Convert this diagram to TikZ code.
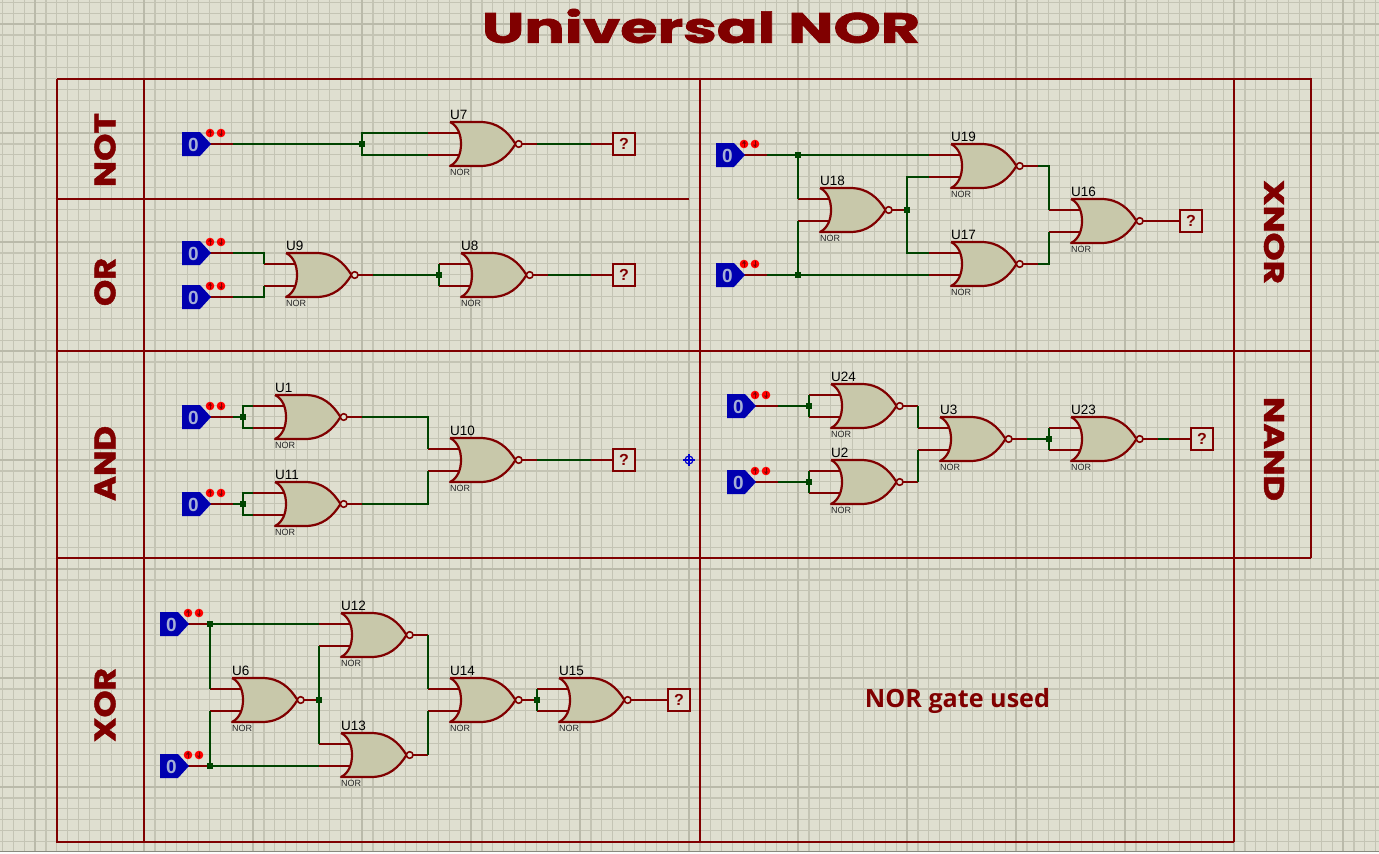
\documentclass[tikz,border=0pt]{standalone}
\usepackage{fontspec}
\setmainfont{Liberation Sans}
\newfontfamily\titlefont[BoldFeatures={FakeBold=1.5}]{Poppins}
\newfontfamily\notefont{Open Sans}
\definecolor{bgc}{RGB}{223,223,208}
\definecolor{gridc}{RGB}{196,196,180}
\definecolor{majorc}{RGB}{186,186,170}
\definecolor{redw}{RGB}{128,0,0}
\definecolor{greenw}{RGB}{0,68,0}
\definecolor{bodyc}{RGB}{200,200,170}
\definecolor{srcc}{RGB}{0,0,176}
\definecolor{zeroc}{RGB}{165,175,215}
\tikzset{
  frameline/.style={draw=redw,line width=2.3pt},
  wire/.style={draw=greenw,line width=2.3pt},
  pinline/.style={draw=redw,line width=2.3pt},
  gatebody/.style={fill=bodyc,draw=redw,line width=2.2pt},
  gatetag/.style={anchor=base west,inner sep=0pt,font=\fontsize{13.5}{13.5}\selectfont,text=black},
  gatekind/.style={anchor=base west,inner sep=0pt,font=\fontsize{9}{9}\selectfont,text=black!85},
  probebox/.style={draw=redw,line width=2.3pt,fill=bgc,minimum width=22pt,minimum height=22pt,inner sep=0pt,font=\bfseries\fontsize{16}{16}\selectfont,text=redw},
  sideheading/.style={inner sep=0pt,text=redw},
}
% name, left x, centre y
\newcommand{\norgate}[3]{%
  \coordinate (#1-A) at (#2-22,#3-11);
  \coordinate (#1-B) at (#2-22,#3+11);
  \coordinate (#1-O) at (#2+87,#3);
  \draw[pinline] (#1-A) -- (#2+10,#3-11);
  \draw[pinline] (#1-B) -- (#2+10,#3+11);
  \draw[pinline] (#2+71,#3) -- (#1-O);
  \draw[gatebody,line join=round] (#2,#3-22) -- (#2+30,#3-22)
     .. controls (#2+48,#3-22) and (#2+58,#3-12) .. (#2+65.5,#3)
     .. controls (#2+58,#3+12) and (#2+48,#3+22) .. (#2+30,#3+22)
     -- (#2,#3+22)
     .. controls (#2+8,#3+18) and (#2+11,#3+9) .. (#2+11,#3)
     .. controls (#2+11,#3-9) and (#2+8,#3-18) .. (#2,#3-22);
  \draw[draw=redw,fill=bgc,line width=1.6pt] (#2+68.7,#3) circle (3.3);
  \node[gatetag] (#1-tag) at (#2,#3-25) {#1};
  \node[gatekind] (#1-kind) at (#2,#3+31.5) {NOR};
}
% name, left x, centre y
\newcommand{\logicsrc}[3]{%
  \coordinate (#1-O) at (#2+51,#3);
  \draw[pinline] (#2+28,#3) -- (#1-O);
  \fill[srcc] (#2,#3-12) -- (#2+18,#3-12) -- (#2+29,#3) -- (#2+18,#3+12) -- (#2,#3+12) -- cycle;
  \node[inner sep=0pt,text=zeroc,font=\bfseries\fontsize{19}{19}\selectfont] (#1-val) at (#2+11.5,#3+1) {0};
  \fill[red] (#2+28,#3-11) circle (4.3) (#2+39,#3-11) circle (4.3);
  \draw[redw,line width=0.9pt] (#2+28,#3-14) -- (#2+28,#3-8) (#2+39,#3-14) -- (#2+39,#3-8);
  \fill[redw] (#2+26,#3-11.5) -- (#2+30,#3-11.5) -- (#2+28,#3-14) -- cycle;
  \fill[redw] (#2+37,#3-10.5) -- (#2+41,#3-10.5) -- (#2+39,#3-8) -- cycle;
}
% name, left x, centre y
\newcommand{\logicprobe}[3]{%
  \coordinate (#1-I) at (#2-22,#3);
  \draw[pinline] (#1-I) -- (#2,#3);
  \node[probebox] (#1) at (#2+11,#3) {?};
}
\newcommand{\junction}[1]{\fill[greenw] (#1) ++(-3,-3) rectangle ++(6,6);}
\begin{document}
\begin{tikzpicture}[x=1pt,y=-1pt]
\useasboundingbox (0,0) rectangle (1379,854);
\fill[bgc] (0,0) rectangle (1379,854);
% grid
\foreach \k in {-3,...,123}{\pgfmathsetmacro{\gx}{35+10.9*\k}\draw[gridc,line width=1.2pt] (\gx,0) -- (\gx,851);}
\foreach \k in {-2,...,76}{\pgfmathsetmacro{\gy}{24+10.9*\k}\draw[gridc,line width=1.2pt] (0,\gy) -- (1379,\gy);}
\foreach \k in {0,...,12}{\pgfmathsetmacro{\gx}{35+109*\k}\draw[majorc,line width=2.4pt] (\gx,0) -- (\gx,851);}
\foreach \k in {0,...,7}{\pgfmathsetmacro{\gy}{24+109*\k}\draw[majorc,line width=2.4pt] (0,\gy) -- (1379,\gy);}
\fill[white!92!bgc] (0,851) rectangle (1379,854);
\draw[gridc!70!black,line width=0.8pt] (0,851) -- (1379,851);
% frame
\draw[frameline] (57,79) -- (1311,79) -- (1311,558);
\draw[frameline] (57,79) -- (57,842) -- (1234,842);
\draw[frameline] (144,79) -- (144,842);
\draw[frameline] (700,79) -- (700,842);
\draw[frameline] (1234,79) -- (1234,842);
\draw[frameline] (57,199) -- (689,199);
\draw[frameline] (57,351) -- (1311,351);
\draw[frameline] (57,558) -- (1311,558);
% titles
\node[sideheading] (title) at (701,26) {\resizebox{438pt}{34pt}{\titlefont\bfseries Universal NOR}};
\node[sideheading,rotate=90] (hnot) at (105,150) {\resizebox{74pt}{21pt}{\titlefont\bfseries NOT}};
\node[sideheading,rotate=90] (hor) at (105,282) {\resizebox{48pt}{21pt}{\titlefont\bfseries OR}};
\node[sideheading,rotate=90] (hand) at (105,463.5) {\resizebox{75pt}{21pt}{\titlefont\bfseries AND}};
\node[sideheading,rotate=90] (hxor) at (105,705) {\resizebox{74pt}{21pt}{\titlefont\bfseries XOR}};
\node[sideheading,rotate=-90] (hxnor) at (1274,232) {\resizebox{104pt}{20pt}{\titlefont\bfseries XNOR}};
\node[sideheading,rotate=-90] (hnand) at (1274,449) {\resizebox{104pt}{20pt}{\titlefont\bfseries NAND}};
\node[sideheading] (used) at (957.5,701) {\resizebox{185pt}{!}{\notefont\bfseries NOR gate used}};
% parts
\logicsrc{S1}{182}{144}
\norgate{U7}{450}{144}
\logicprobe{P1}{613}{144}
\logicsrc{S2}{182}{253}
\logicsrc{S3}{182}{297}
\norgate{U9}{286}{275}
\norgate{U8}{461}{275}
\logicprobe{P2}{613}{275}
\logicsrc{S4}{182}{417}
\logicsrc{S5}{182}{504}
\norgate{U1}{275}{417}
\norgate{U11}{275}{504}
\norgate{U10}{450}{460}
\logicprobe{P3}{613}{460}
\logicsrc{S6}{716}{155}
\logicsrc{S7}{716}{275}
\norgate{U18}{820}{210}
\norgate{U19}{951}{166}
\norgate{U17}{951}{264}
\norgate{U16}{1071}{221}
\logicprobe{P4}{1180}{221}
\logicsrc{S8}{727}{406}
\logicsrc{S9}{727}{482}
\norgate{U24}{831}{406}
\norgate{U2}{831}{482}
\norgate{U3}{940}{439}
\norgate{U23}{1071}{439}
\logicprobe{P5}{1191}{439}
\logicsrc{S10}{160}{624}
\logicsrc{S11}{160}{766}
\norgate{U12}{341}{635}
\norgate{U6}{232}{700}
\norgate{U13}{341}{755}
\norgate{U14}{450}{700}
\norgate{U15}{559}{700}
\logicprobe{P6}{668}{700}
% wires: NOT
\coordinate (J1) at (362,144);
\draw[wire] (S1-O) -- (J1);
\draw[wire] (U7-A) -| (J1) |- (U7-B);
\draw[wire] (U7-O) -- (P1-I);
% OR
\draw[wire] (S2-O) -| (U9-A);
\draw[wire] (S3-O) -| (U9-B);
\coordinate (J2) at (U8-A |- U9-O);
\draw[wire] (U9-O) -- (J2);
\draw[wire] (U8-A) -- (U8-B);
\draw[wire] (U8-O) -- (P2-I);
% AND
\coordinate (J3) at (243,417);
\draw[wire] (S4-O) -- (J3);
\draw[wire] (U1-A) -| (J3) |- (U1-B);
\coordinate (J4) at (243,504);
\draw[wire] (S5-O) -- (J4);
\draw[wire] (U11-A) -| (J4) |- (U11-B);
\draw[wire] (U1-O) -| (U10-A);
\draw[wire] (U11-O) -| (U10-B);
\draw[wire] (U10-O) -- (P3-I);
% XNOR
\coordinate (J5) at (U18-A |- S6-O);
\coordinate (J6) at (U18-B |- S7-O);
\draw[wire] (S6-O) -- (U19-A);
\draw[wire] (S7-O) -- (U17-B);
\draw[wire] (J5) -- (U18-A);
\draw[wire] (U18-B) -- (J6);
\coordinate (J7) at (907,210);
\draw[wire] (U18-O) -- (J7);
\draw[wire] (U19-B) -| (J7) |- (U17-A);
\draw[wire] (U19-O) -| (U16-A);
\draw[wire] (U17-O) -| (U16-B);
\draw[wire] (U16-O) -- (P4-I);
% NAND
\coordinate (J8) at (U24-A |- S8-O);
\coordinate (J9) at (U2-A |- S9-O);
\draw[wire] (S8-O) -- (J8);
\draw[wire] (S9-O) -- (J9);
\draw[wire] (U24-A) -- (U24-B);
\draw[wire] (U2-A) -- (U2-B);
\draw[wire] (U24-O) -| (U3-A);
\draw[wire] (U2-O) -| (U3-B);
\coordinate (J10) at (U23-A |- U3-O);
\draw[wire] (U3-O) -- (J10);
\draw[wire] (U23-A) -- (U23-B);
\draw[wire] (U23-O) -- (P5-I);
% XOR
\coordinate (J11) at (U6-A |- S10-O);
\coordinate (J12) at (U6-B |- S11-O);
\draw[wire] (S10-O) -- (U12-A);
\draw[wire] (S11-O) -- (U13-B);
\draw[wire] (J11) -- (U6-A);
\draw[wire] (U6-B) -- (J12);
\coordinate (J13) at (U12-B |- U6-O);
\draw[wire] (U6-O) -- (J13);
\draw[wire] (U12-B) -- (U13-A);
\draw[wire] (U12-O) -| (U14-A);
\draw[wire] (U13-O) -| (U14-B);
\coordinate (J14) at (U15-A |- U14-O);
\draw[wire] (U14-O) -- (J14);
\draw[wire] (U15-A) -- (U15-B);
\draw[wire] (U15-O) -- (P6-I);
% junction dots
\foreach \j in {J1,J2,J3,J4,J5,J6,J7,J8,J9,J10,J11,J12,J13,J14}{\junction{\j}}
% cursor marker
\coordinate (mark) at (689,460);
\draw[blue!80!black,line width=1.2pt] (mark) circle (4);
\draw[blue!80!black,line width=1.2pt] (683,460) -- (695,460) (689,454) -- (689,466);
\end{tikzpicture}
\end{document}
